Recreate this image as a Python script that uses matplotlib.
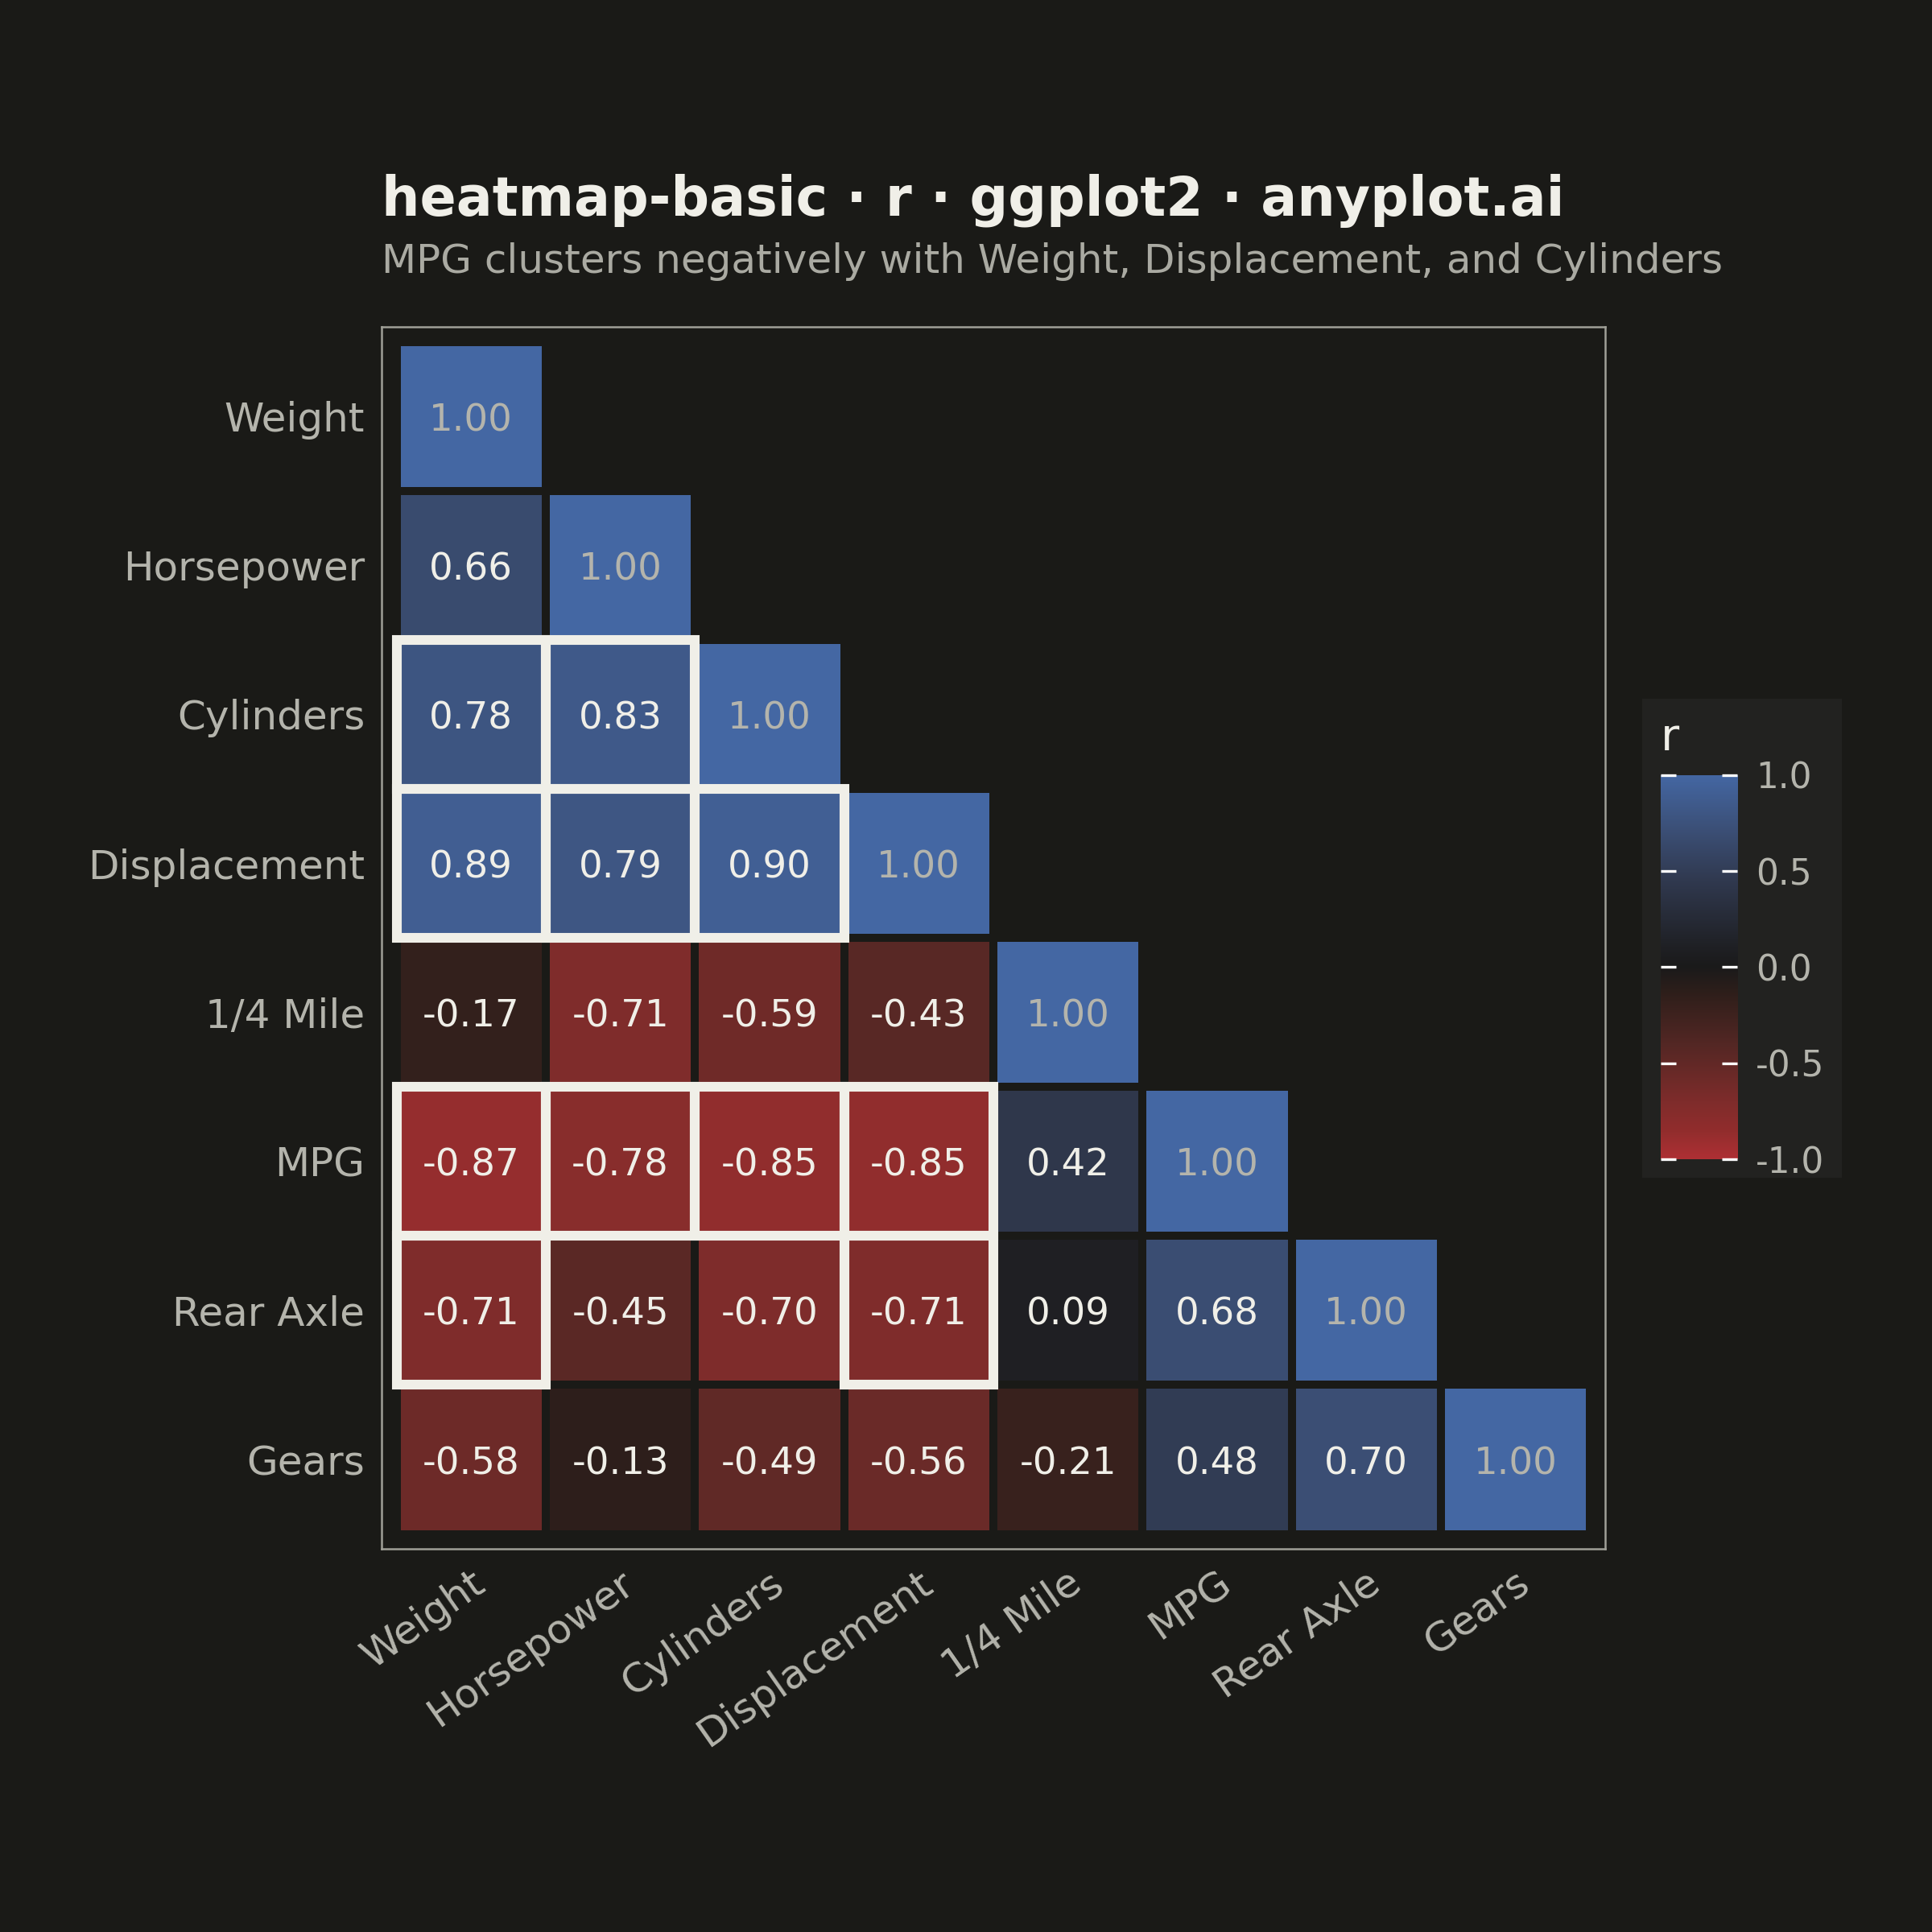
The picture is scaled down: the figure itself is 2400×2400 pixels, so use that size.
import numpy as np
import matplotlib
matplotlib.use("Agg")
import matplotlib.pyplot as plt
from matplotlib.colors import LinearSegmentedColormap, Normalize
from matplotlib.patches import Rectangle
import matplotlib.transforms as mtransforms

# ---------------- data ----------------
variables = ["Weight", "Horsepower", "Cylinders", "Displacement",
             "1/4 Mile", "MPG", "Rear Axle", "Gears"]

row_weight = [1.00]
row_horsepower = [0.66, 1.00]
row_cylinders = [0.78, 0.83, 1.00]
row_displacement = [0.89, 0.79, 0.90, 1.00]
row_quarter_mile = [-0.17, -0.71, -0.59, -0.43, 1.00]
row_mpg = [-0.87, -0.78, -0.85, -0.85, 0.42, 1.00]
row_rear_axle = [-0.71, -0.45, -0.70, -0.71, 0.09, 0.68, 1.00]
row_gears = [-0.58, -0.13, -0.49, -0.56, -0.21, 0.48, 0.70, 1.00]

rows = [row_weight, row_horsepower, row_cylinders, row_displacement,
        row_quarter_mile, row_mpg, row_rear_axle, row_gears]

highlighted = [("Cylinders", "Weight"), ("Cylinders", "Horsepower"),
               ("Displacement", "Weight"), ("Displacement", "Horsepower"),
               ("Displacement", "Cylinders"),
               ("MPG", "Weight"), ("MPG", "Horsepower"), ("MPG", "Cylinders"),
               ("MPG", "Displacement"),
               ("Rear Axle", "Weight"), ("Rear Axle", "Displacement")]

cbar_ticks = [-1.0, -0.5, 0.0, 0.5, 1.0]

title = "heatmap-basic · r · ggplot2 · anyplot.ai"
subtitle = "MPG clusters negatively with Weight, Displacement, and Cylinders"

# ---------------- style ----------------
BG = "#1A1A17"
LEG_BG = "#222220"
INK = "#F0EFE8"
SOFT = "#B4B4AC"
SUB = "#AAAAA2"

stops = [(-1.0, "#AE3034"), (-0.86, "#922D2D"), (-0.7, "#7E2C2B"),
         (-0.4, "#532724"), (-0.15, "#301F1B"), (0.0, "#1A1A1A"),
         (0.1, "#1F2024"), (0.45, "#30394F"), (0.7, "#3B4E74"),
         (1.0, "#4467A3")]
cmap = LinearSegmentedColormap.from_list(
    "rb", [((v + 1) / 2, c) for v, c in stops])
norm = Normalize(-1, 1)

n = len(variables)
M = np.full((n, n), np.nan)
for i, r in enumerate(rows):
    for j, v in enumerate(r):
        M[i, j] = v
Mm = np.ma.masked_invalid(M)

fig = plt.figure(figsize=(8, 8), dpi=300, facecolor=BG)
ax = fig.add_axes([0.1975, 0.1983, 0.6333, 0.6325])
ax.set_facecolor(BG)

ax.pcolormesh(np.arange(n + 1) - 0.5, np.arange(n + 1) - 0.5, Mm,
              cmap=cmap, norm=norm, edgecolors=BG, linewidth=2.4)

for i, r in enumerate(rows):
    for j, v in enumerate(r):
        col = SOFT if i == j else INK
        ax.text(j, i + 0.03, f"{v:.2f}", ha="center", va="center",
                fontsize=11.2, color=col)

for rname, cname in highlighted:
    i = variables.index(rname)
    j = variables.index(cname)
    ax.add_patch(Rectangle((j - 0.5, i - 0.5), 1, 1, fill=False,
                           edgecolor=INK, linewidth=2.9, zorder=5,
                           joinstyle="miter"))

ax.set_xlim(-0.6, n - 0.4)
ax.set_ylim(n - 0.4, -0.6)
ax.set_xticks(range(n))
ax.set_yticks(range(n))
ax.set_yticklabels(variables, fontsize=12, color=SOFT)
ax.set_xticklabels([])
ax.tick_params(length=0, pad=5)

xlab_trans = (mtransforms.blended_transform_factory(ax.transData, ax.transAxes)
              + mtransforms.ScaledTranslation(26 / 300, -4.4 / 72,
                                              fig.dpi_scale_trans))
for j, name in enumerate(variables):
    ax.text(j, 0, name, transform=xlab_trans, rotation=35, ha="right",
            va="top", fontsize=12, color=SOFT, clip_on=False)

for s in ax.spines.values():
    s.set_color("#A0A098")
    s.set_linewidth(0.6)

fig.text(0.1975, 0.8883, title, fontsize=16, fontweight="bold",
         color=INK, ha="left", va="baseline")
fig.text(0.1975, 0.8588, subtitle, fontsize=12, color=SUB,
         ha="left", va="baseline")

# legend
fig.patches.append(Rectangle((0.85, 0.3904), 0.1033, 0.2479,
                             transform=fig.transFigure, facecolor=LEG_BG,
                             edgecolor="none", zorder=-5))
cax = fig.add_axes([0.8596, 0.4, 0.0396, 0.1988])
cax.set_facecolor(LEG_BG)
grad = np.linspace(-1, 1, 256).reshape(-1, 1)
cax.imshow(grad, aspect="auto", cmap=cmap, norm=norm, origin="lower",
           extent=[0, 1, -1, 1])
cax.set_xlim(0, 1)
cax.set_ylim(-1, 1)
cax.set_xticks([])
cax.yaxis.tick_right()
cax.set_yticks(cbar_ticks)
cax.set_yticklabels([f"{t:.1f}" for t in cbar_ticks], fontsize=10.5,
                    color=SOFT)
cax.tick_params(axis="y", direction="in", length=4.6, width=0.8,
                color="white", left=True, right=True, pad=5.5)
for s in cax.spines.values():
    s.set_visible(False)
fig.text(0.8596, 0.6115, "r", fontsize=13.5, color=INK, ha="left",
         va="baseline")

fig.savefig("out.png", dpi=300, facecolor=BG)
